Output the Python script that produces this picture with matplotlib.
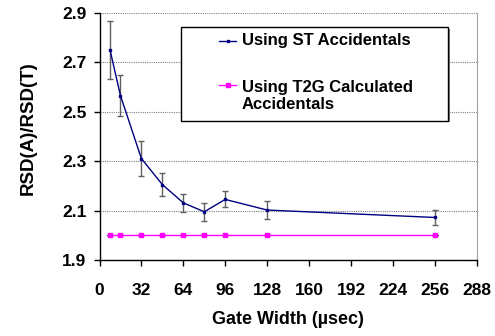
import matplotlib
matplotlib.use("Agg")
import matplotlib.pyplot as plt
from matplotlib.patches import Rectangle
from matplotlib.lines import Line2D

# Gate width (usec) and RSD ratios
gate_width = [8, 16, 32, 48, 64, 80, 96, 128, 256]
st_ratio = [2.75, 2.565, 2.31, 2.205, 2.131, 2.095, 2.145, 2.102, 2.072]
st_err = [0.118, 0.083, 0.07, 0.045, 0.036, 0.037, 0.032, 0.035, 0.03]
t2g_ratio = [2.0, 2.0, 2.0, 2.0, 2.0, 2.0, 2.0, 2.0, 2.0]
t2g_err = [0, 0, 0, 0, 0, 0, 0, 0, 0]

labels = ["Using ST Accidentals", "Using T2G Calculated\nAccidentals"]
xticks = [0, 32, 64, 96, 128, 160, 192, 224, 256, 288]
yticks = [1.9, 2.1, 2.3, 2.5, 2.7, 2.9]

plt.rcParams['font.family'] = ['Liberation Sans', 'DejaVu Sans']
plt.rcParams['font.weight'] = 'bold'

W, H = 495, 336
fig = plt.figure(figsize=(W / 100, H / 100), dpi=100)
ax = fig.add_axes([99.5 / W, 1 - 260 / H, (476.7 - 99.5) / W, (260 - 12.7) / H])

def px(x, y):
    # pixel position (from top-left) -> figure fraction
    return x / W, 1 - y / H

ax.set_xlim(0, 288)
ax.set_ylim(1.9, 2.9)
ax.set_xticks(xticks)
ax.set_yticks(yticks)
ax.set_yticklabels(["%.1f" % v for v in yticks])
ax.tick_params(axis='both', direction='out', length=4.5, width=1, labelsize=12.5, colors='black')
ax.tick_params(axis='x', pad=12)
ax.tick_params(axis='y', pad=5)
for lab in ax.get_xticklabels() + ax.get_yticklabels():
    lab.set_fontweight('bold')

ax.spines['top'].set_visible(False)
ax.spines['right'].set_color('#a0a0a0')
ax.spines['left'].set_linewidth(1)
ax.spines['bottom'].set_linewidth(1)

ax.yaxis.grid(True, color='#808080', linestyle=(0, (1, 1)), linewidth=0.8)
ax.set_axisbelow(True)

ax.errorbar(gate_width, st_ratio, yerr=st_err, color='#000080', lw=1,
            marker='s', ms=2, ecolor='#606060', elinewidth=1, capsize=2.2, capthick=1)
ax.errorbar(gate_width, t2g_ratio, yerr=t2g_err, color='#ff00ff', lw=1,
            marker='s', ms=2.5, ecolor='black', elinewidth=1, capsize=2.2, capthick=1)

ax.set_xlabel("Gate Width (µsec)", fontsize=13, fontweight='bold')
ax.set_ylabel("RSD(A)/RSD(T)", fontsize=13.5, fontweight='bold')
ax.xaxis.set_label_coords(0.5, -0.207)
ax.yaxis.set_label_coords(-0.166, 0.535)

# legend box drawn by hand
x0, y0 = px(180.7, 120.7)
x1, y1 = px(448.3, 27.3)
sx, sy = 1.5 / W, 1.5 / H
fig.patches.append(Rectangle((x0 + sx, y0 - sy), x1 - x0, y1 - y0, transform=fig.transFigure,
                             facecolor='#808080', edgecolor='none', zorder=5))
fig.patches.append(Rectangle((x0, y0), x1 - x0, y1 - y0, transform=fig.transFigure,
                             facecolor='white', edgecolor='black', lw=1, zorder=6))
for color, ms, ly in [('#000080', 2, 40.7), ('#ff00ff', 2.5, 85)]:
    ax_x0, ax_y = px(219, ly)
    ax_x1, _ = px(236, ly)
    fig.lines.append(Line2D([ax_x0, ax_x1], [ax_y, ax_y], transform=fig.transFigure,
                            color=color, lw=1, zorder=7))
    fig.lines.append(Line2D([(ax_x0 + ax_x1) / 2], [ax_y], transform=fig.transFigure,
                            color=color, marker='s', ms=ms, zorder=7))
tx, ty = px(241.7, 40.7)
fig.text(tx, ty, labels[0], fontsize=12, fontweight='bold', va='center', ha='left', zorder=8)
tx, ty = px(241.7, 96)
fig.text(tx, ty, labels[1], fontsize=12, fontweight='bold', va='center', ha='left',
         linespacing=1.15, zorder=8)

fig.savefig("out.png", dpi=100)
